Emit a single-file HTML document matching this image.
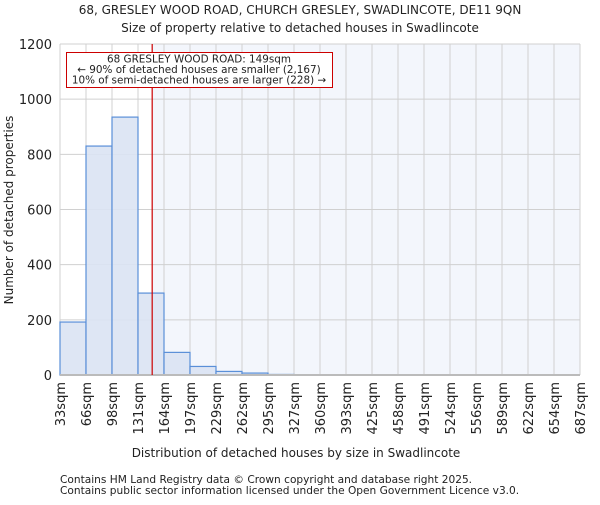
<!DOCTYPE html>
<html><head><meta charset="utf-8"><style>
body{margin:0;background:#fff}
svg text{font-family:"DejaVu Sans","Liberation Sans",sans-serif;fill:#222}
</style></head><body>
<svg width="600" height="500" id="c">
<text x="300" y="14" text-anchor="middle" font-size="12">68, GRESLEY WOOD ROAD, CHURCH GRESLEY, SWADLINCOTE, DE11 9QN</text>
<text x="300" y="32" text-anchor="middle" font-size="12">Size of property relative to detached houses in Swadlincote</text>
<g id="plot"></g>
<text x="296" y="457" text-anchor="middle" font-size="12">Distribution of detached houses by size in Swadlincote</text>
<text transform="translate(13,210) rotate(-90)" text-anchor="middle" font-size="12">Number of detached properties</text>
<text x="60" y="483" font-size="10.6">Contains HM Land Registry data © Crown copyright and database right 2025.</text>
<text x="60" y="494" font-size="10.6">Contains public sector information licensed under the Open Government Licence v3.0.</text>
</svg>
<script>
const labels=["33sqm","66sqm","98sqm","131sqm","164sqm","197sqm","229sqm","262sqm","295sqm","327sqm","360sqm","393sqm","425sqm","458sqm","491sqm","524sqm","556sqm","589sqm","622sqm","654sqm","687sqm"];
const edges=[33,66,98,131,164,197,229,262,295,327,360,393,425,458,491,524,556,589,622,654,687];
const counts=[192,830,935,297,82,31,13,7,2,0,0,0,0,0,0,0,0,0,0,0];
const yTicks=[0,200,400,600,800,1000,1200];
const propertySize=149;
const X0=60,X1=580,Y0=375,Y1=44,YMAX=1200;
const NS="http://www.w3.org/2000/svg";
const g=document.getElementById('plot');
const n=counts.length,bw=(X1-X0)/n;
function xi(i){return X0+i*bw;}
function xv(v){for(let i=0;i<edges.length-1;i++){if(v<=edges[i+1])return xi(i)+(v-edges[i])/(edges[i+1]-edges[i])*bw;}return X1;}
function y(v){return Y0-(v/YMAX)*(Y0-Y1);}
function el(t,a,p){const e=document.createElementNS(NS,t);for(const k in a)e.setAttribute(k,a[k]);(p||g).appendChild(e);return e;}
const px=xv(propertySize);
let r=el('rect',{x:px,y:Y1,width:X1-px,height:Y0-Y1,fill:'#f3f6fc'});


for(let i=0;i<=n;i++){let l=el('line',{x1:xi(i),x2:xi(i),y1:Y1,y2:Y0,stroke:'#d0d0d0','stroke-width':1});

}
yTicks.forEach(t=>{let l=el('line',{x1:X0,x2:X1,y1:y(t),y2:y(t),stroke:'#d0d0d0','stroke-width':1});


let tx=el('text',{x:X0-8,y:y(t)+5,'text-anchor':'end','font-size':13});tx.textContent=t;

});
counts.forEach((c,i)=>{if(c<=0)return;let b=el('rect',{x:xi(i),y:y(c),width:bw,height:Y0-y(c),fill:'#dae3f3','fill-opacity':0.9,stroke:'#5a8fd8','stroke-width':1.2});

});
let ax=el('line',{x1:X0,x2:X1,y1:Y0,y2:Y0,stroke:'#bbbbbb','stroke-width':2});


labels.forEach((s,i)=>{let tx=el('text',{transform:`translate(${xi(i)+5},382) rotate(-90)`,'text-anchor':'end','font-size':13});tx.textContent=s;

});
let pl=el('line',{x1:px,x2:px,y1:Y1,y2:Y0,stroke:'#cc0000','stroke-width':1.2});


let box=el('rect',{x:66.5,y:52.5,width:266,height:35,fill:'#fff',stroke:'#cc0000','stroke-width':1});


["68 GRESLEY WOOD ROAD: 149sqm","← 90% of detached houses are smaller (2,167)","10% of semi-detached houses are larger (228) →"].forEach((s,i)=>{let tx=el('text',{x:199,y:62.5+i*10.5,'text-anchor':'middle','font-size':10.4});tx.textContent=s;

});
</script>
</body></html>
